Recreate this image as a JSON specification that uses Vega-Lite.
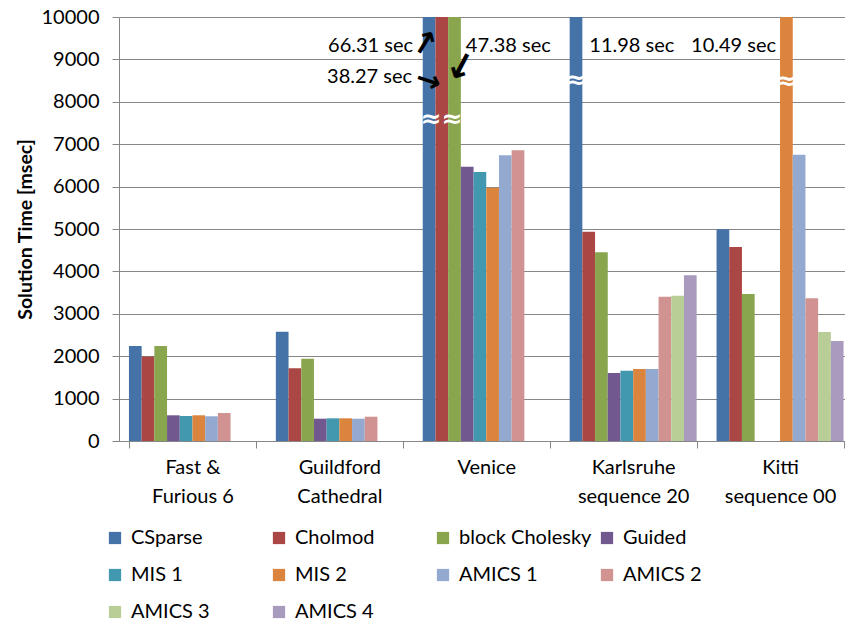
{
  "$schema": "https://vega.github.io/schema/vega-lite/v6.json",
  "autosize": {"type": "none"},
  "width": 726,
  "height": 424,
  "padding": {"left": 119, "top": 17, "right": 0, "bottom": 180},
  "background": "white",
  "config": {
    "font": "Lato",
    "view": {"stroke": null},
    "axis": {"labelFont": "Lato", "titleFont": "Lato", "labelColor": "#000000", "titleColor": "#000000", "domainColor": "#868686", "tickColor": "#868686", "gridColor": "#868686", "gridWidth": 1}
  },
  "datasets": {
    "bars": [
      {"group": "Fast & Furious 6", "series": "CSparse", "value": 2240},
      {"group": "Fast & Furious 6", "series": "Cholmod", "value": 1990},
      {"group": "Fast & Furious 6", "series": "block Cholesky", "value": 2240},
      {"group": "Fast & Furious 6", "series": "Guided", "value": 606},
      {"group": "Fast & Furious 6", "series": "MIS 1", "value": 590},
      {"group": "Fast & Furious 6", "series": "MIS 2", "value": 606},
      {"group": "Fast & Furious 6", "series": "AMICS 1", "value": 583},
      {"group": "Fast & Furious 6", "series": "AMICS 2", "value": 660},
      {"group": "Guildford Cathedral", "series": "CSparse", "value": 2578},
      {"group": "Guildford Cathedral", "series": "Cholmod", "value": 1715},
      {"group": "Guildford Cathedral", "series": "block Cholesky", "value": 1941},
      {"group": "Guildford Cathedral", "series": "Guided", "value": 526},
      {"group": "Guildford Cathedral", "series": "MIS 1", "value": 535},
      {"group": "Guildford Cathedral", "series": "MIS 2", "value": 535},
      {"group": "Guildford Cathedral", "series": "AMICS 1", "value": 526},
      {"group": "Guildford Cathedral", "series": "AMICS 2", "value": 573},
      {"group": "Venice", "series": "CSparse", "value": 66310},
      {"group": "Venice", "series": "Cholmod", "value": 38270},
      {"group": "Venice", "series": "block Cholesky", "value": 47380},
      {"group": "Venice", "series": "Guided", "value": 6470},
      {"group": "Venice", "series": "MIS 1", "value": 6344},
      {"group": "Venice", "series": "MIS 2", "value": 5974},
      {"group": "Venice", "series": "AMICS 1", "value": 6738},
      {"group": "Venice", "series": "AMICS 2", "value": 6856},
      {"group": "Karlsruhe sequence 20", "series": "CSparse", "value": 11980},
      {"group": "Karlsruhe sequence 20", "series": "Cholmod", "value": 4936},
      {"group": "Karlsruhe sequence 20", "series": "block Cholesky", "value": 4450},
      {"group": "Karlsruhe sequence 20", "series": "Guided", "value": 1604},
      {"group": "Karlsruhe sequence 20", "series": "MIS 1", "value": 1658},
      {"group": "Karlsruhe sequence 20", "series": "MIS 2", "value": 1698},
      {"group": "Karlsruhe sequence 20", "series": "AMICS 1", "value": 1698},
      {"group": "Karlsruhe sequence 20", "series": "AMICS 2", "value": 3403},
      {"group": "Karlsruhe sequence 20", "series": "AMICS 3", "value": 3427},
      {"group": "Karlsruhe sequence 20", "series": "AMICS 4", "value": 3908},
      {"group": "Kitti sequence 00", "series": "CSparse", "value": 4993},
      {"group": "Kitti sequence 00", "series": "Cholmod", "value": 4575},
      {"group": "Kitti sequence 00", "series": "block Cholesky", "value": 3467},
      {"group": "Kitti sequence 00", "series": "MIS 2", "value": 10490},
      {"group": "Kitti sequence 00", "series": "AMICS 1", "value": 6752},
      {"group": "Kitti sequence 00", "series": "AMICS 2", "value": 3365},
      {"group": "Kitti sequence 00", "series": "AMICS 3", "value": 2571},
      {"group": "Kitti sequence 00", "series": "AMICS 4", "value": 2358}
    ],
    "breaks": [
      {"group": "Venice", "series": "Cholmod", "value": 7594, "label": "≈≈"},
      {"group": "Karlsruhe sequence 20", "series": "CSparse", "value": 8520, "label": "≈"},
      {"group": "Kitti sequence 00", "series": "MIS 2", "value": 8480, "label": "≈"}
    ],
    "notes": [
      {"group": "Venice", "series": "CSparse", "value": 9316, "label": "66.31 sec"},
      {"group": "Venice", "series": "CSparse", "value": 8585, "label": "38.27 sec"},
      {"group": "Venice", "series": "AMICS 1", "value": 9316, "label": "47.38 sec"},
      {"group": "Karlsruhe sequence 20", "series": "MIS 1", "value": 9316, "label": "11.98 sec"},
      {"group": "Kitti sequence 00", "series": "Cholmod", "value": 9316, "label": "10.49 sec"}
    ],
    "arrows": [
      {"group": "Venice", "series": "CSparse", "value": 9399, "label": "→", "arrow": "a1"},
      {"group": "Venice", "series": "CSparse", "value": 8486, "label": "→", "arrow": "a2"},
      {"group": "Venice", "series": "block Cholesky", "value": 8849, "label": "→", "arrow": "a3"}
    ]
  },
  "encoding": {
    "x": {
      "field": "group", "type": "nominal", "sort": null,
      "scale": {"domain": ["Fast & Furious 6", "Guildford Cathedral", "Venice", "Karlsruhe sequence 20", "Kitti sequence 00"], "range": [0, 734.5], "paddingInner": 0.1355, "paddingOuter": 0.06775},
      "axis": {
        "title": null, "labelAngle": 0, "tickBand": "extent", "tickSize": 7, "labelPadding": 9,
        "labelFontSize": 20, "labelLineHeight": 29, "labelBaseline": "top",
        "labelExpr": "datum.label == 'Fast & Furious 6' ? ['Fast &', 'Furious 6'] : datum.label == 'Guildford Cathedral' ? ['Guildford', 'Cathedral'] : datum.label == 'Karlsruhe sequence 20' ? ['Karlsruhe', 'sequence 20'] : datum.label == 'Kitti sequence 00' ? ['Kitti', 'sequence 00'] : datum.label",
        "grid": false, "domainWidth": 1
      }
    },
    "xOffset": {
      "field": "series", "type": "nominal",
      "scale": {"domain": ["CSparse", "Cholmod", "block Cholesky", "Guided", "MIS 1", "MIS 2", "AMICS 1", "AMICS 2", "AMICS 3", "AMICS 4"], "paddingInner": 0, "paddingOuter": 0}
    },
    "y": {
      "field": "value", "type": "quantitative",
      "scale": {"domain": [0, 10000], "nice": false},
      "axis": {
        "title": "Solution Time [msec]", "titleFontSize": 19.5, "titleFontWeight": "bold", "titlePadding": 6,
        "values": [0, 1000, 2000, 3000, 4000, 5000, 6000, 7000, 8000, 9000, 10000],
        "format": "d", "labelFontSize": 20, "tickSize": 7, "labelPadding": 13,
        "labelFlush": false, "labelOverlap": false, "grid": true
      }
    }
  },
  "layer": [
    {
      "data": {"name": "bars"},
      "mark": {"type": "bar", "clip": true},
      "encoding": {
        "color": {
          "field": "series", "type": "nominal",
          "scale": {"domain": ["CSparse", "Cholmod", "block Cholesky", "Guided", "MIS 1", "MIS 2", "AMICS 1", "AMICS 2", "AMICS 3", "AMICS 4"],
                    "range": ["#4572A7", "#AA4643", "#89A54E", "#71588F", "#4198AF", "#DB843D", "#93A9CF", "#D19392", "#B9CD96", "#A99BBD"]},
          "legend": {
            "orient": "none", "legendX": -14, "legendY": 511, "direction": "horizontal", "columns": 4,
            "gridAlign": "all", "symbolType": "square", "symbolSize": 150, "symbolStrokeWidth": 0,
            "labelFontSize": 20, "labelFont": "Lato", "labelColor": "#000000", "labelOffset": 6, "labelLimit": 0,
            "columnPadding": 5, "rowPadding": 17, "title": null, "padding": 0
          }
        }
      }
    },
    {
      "data": {"name": "breaks"},
      "mark": {"type": "text", "color": "white", "font": "DejaVu Sans", "fontSize": 25, "fontWeight": "bold", "baseline": "middle", "align": "center"},
      "encoding": {"text": {"field": "label"}}
    },
    {
      "data": {"name": "notes"},
      "transform": [{"filter": "datum.label == '66.31 sec'"}],
      "mark": {"type": "text", "fontSize": 20, "align": "right", "baseline": "middle", "dx": -16, "color": "#000000"},
      "encoding": {"text": {"field": "label"}}
    },
    {
      "data": {"name": "notes"},
      "transform": [{"filter": "datum.label == '38.27 sec'"}],
      "mark": {"type": "text", "fontSize": 20, "align": "right", "baseline": "middle", "dx": -17, "color": "#000000"},
      "encoding": {"text": {"field": "label"}}
    },
    {
      "data": {"name": "notes"},
      "transform": [{"filter": "datum.label == '47.38 sec'"}],
      "mark": {"type": "text", "fontSize": 20, "align": "center", "baseline": "middle", "dx": 3, "color": "#000000"},
      "encoding": {"text": {"field": "label"}}
    },
    {
      "data": {"name": "notes"},
      "transform": [{"filter": "datum.label == '11.98 sec'"}],
      "mark": {"type": "text", "fontSize": 20, "align": "center", "baseline": "middle", "dx": 5, "color": "#000000"},
      "encoding": {"text": {"field": "label"}}
    },
    {
      "data": {"name": "notes"},
      "transform": [{"filter": "datum.label == '10.49 sec'"}],
      "mark": {"type": "text", "fontSize": 20, "align": "center", "baseline": "middle", "dx": -2, "color": "#000000"},
      "encoding": {"text": {"field": "label"}}
    },
    {
      "data": {"name": "arrows"},
      "transform": [{"filter": "datum.arrow == 'a1'"}],
      "mark": {"type": "text", "font": "DejaVu Sans", "fontSize": 32, "fontWeight": "bold", "align": "center", "baseline": "middle", "angle": -58.7, "dx": -2.1, "dy": -3.4, "color": "#000000"},
      "encoding": {"text": {"field": "label"}}
    },
    {
      "data": {"name": "arrows"},
      "transform": [{"filter": "datum.arrow == 'a2'"}],
      "mark": {"type": "text", "font": "DejaVu Sans", "fontSize": 30, "fontWeight": "bold", "align": "center", "baseline": "middle", "angle": 18.3, "dx": -0.7, "dy": 0.2, "color": "#000000"},
      "encoding": {"text": {"field": "label"}}
    },
    {
      "data": {"name": "arrows"},
      "transform": [{"filter": "datum.arrow == 'a3'"}],
      "mark": {"type": "text", "font": "DejaVu Sans", "fontSize": 36, "fontWeight": "bold", "align": "center", "baseline": "middle", "angle": 117.9, "dx": -3.0, "dy": -5.6, "color": "#000000"},
      "encoding": {"text": {"field": "label"}}
    }
  ]
}
